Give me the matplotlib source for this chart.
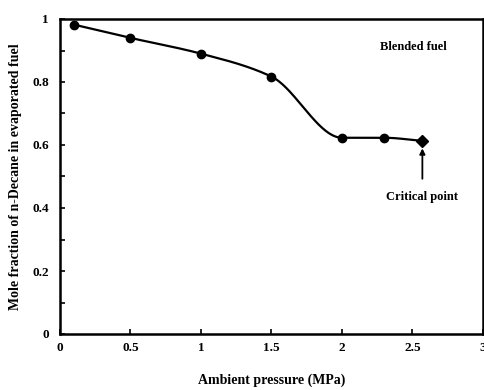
import numpy as np
import matplotlib.pyplot as plt
from matplotlib.ticker import MultipleLocator

plt.rcParams['font.family'] = ['Liberation Serif', 'DejaVu Serif']
plt.rcParams['font.weight'] = 'bold'

# data
pressure = [0.1, 0.5, 1.0, 1.5, 2.0, 2.3]
decane_frac = [0.982, 0.940, 0.890, 0.817, 0.623, 0.623]
crit_pressure = 2.57
crit_frac = 0.613


def pchip(x, y, xs):
    # monotone cubic, just for the smooth drawn line
    x = np.asarray(x, float)
    y = np.asarray(y, float)
    h = np.diff(x)
    d = np.diff(y) / h
    m = np.zeros_like(y)
    for k in range(1, len(x) - 1):
        if d[k - 1] * d[k] > 0:
            w1 = 2 * h[k] + h[k - 1]
            w2 = h[k] + 2 * h[k - 1]
            m[k] = (w1 + w2) / (w1 / d[k - 1] + w2 / d[k])
    m[0] = d[0]
    m[-1] = d[-1]
    idx = np.clip(np.searchsorted(x, xs) - 1, 0, len(h) - 1)
    t = (xs - x[idx]) / h[idx]
    h00 = 2 * t**3 - 3 * t**2 + 1
    h10 = t**3 - 2 * t**2 + t
    h01 = -2 * t**3 + 3 * t**2
    h11 = t**3 - t**2
    return h00 * y[idx] + h10 * h[idx] * m[idx] + h01 * y[idx + 1] + h11 * h[idx] * m[idx + 1]


xs_all = pressure + [crit_pressure]
ys_all = decane_frac + [crit_frac]

fig = plt.figure(figsize=(4.85, 3.9), dpi=100)
ax = fig.add_axes([60 / 485, 1 - 334 / 390, 423 / 485, 315 / 390])

xx = np.linspace(xs_all[0], xs_all[-1], 300)
ax.plot(xx, pchip(xs_all, ys_all, xx), color='black', lw=1.6)
ax.plot(pressure, decane_frac, 'o', color='black', ms=6)
ax.plot([crit_pressure], [crit_frac], 'D', color='black', ms=6)

ax.annotate('', xy=(crit_pressure, crit_frac - 0.015), xytext=(crit_pressure, 0.484),
            arrowprops=dict(arrowstyle='-|>', color='black', lw=1.3, mutation_scale=8))
ax.text(crit_pressure, 0.436, 'Critical point', ha='center', va='center', fontsize=9)
ax.text(2.27, 0.911, 'Blended fuel', ha='left', va='center', fontsize=9)

ax.set_xlim(0, 3)
ax.set_ylim(0, 1)
ax.xaxis.set_major_locator(MultipleLocator(0.5))
ax.yaxis.set_major_locator(MultipleLocator(0.2))
ax.yaxis.set_minor_locator(MultipleLocator(0.1))
ax.xaxis.set_major_formatter(plt.FuncFormatter(lambda v, p: f'{v:g}'))
ax.yaxis.set_major_formatter(plt.FuncFormatter(lambda v, p: f'{v:g}'))
ax.tick_params(axis='both', which='both', direction='in', length=3.5, width=1.2,
               labelsize=9.5, top=False, right=False)
ax.tick_params(axis='x', pad=6)
ax.tick_params(axis='y', pad=8)
for sp in ax.spines.values():
    sp.set_linewidth(1.8)

ax.set_xlabel('Ambient pressure (MPa)', fontsize=10, fontweight='bold', labelpad=14)
ax.set_ylabel('Mole fraction of n-Decane in evaporated fuel', fontsize=10, fontweight='bold', labelpad=7)

fig.savefig('out.png', dpi=100)
plt.close(fig)
